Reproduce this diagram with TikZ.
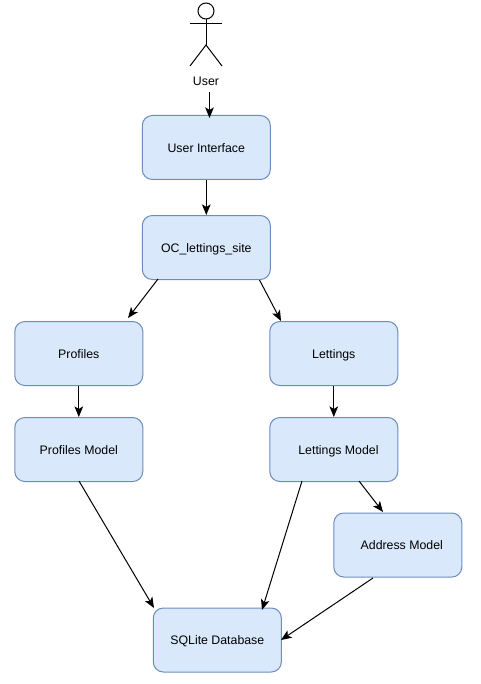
\documentclass[tikz,border=0pt]{standalone}
\usepackage{fontspec}
\setmainfont{Liberation Sans}
\usetikzlibrary{arrows.meta}
\definecolor{boxfill}{HTML}{DAE8FC}
\definecolor{boxline}{HTML}{6C8EBF}
\newcommand{\boxtext}[1]{\raisebox{-3.5pt}[0pt][0pt]{#1}}
\tikzset{
 x=0.75pt,y=-0.75pt,
 box/.style={draw=boxline,fill=boxfill,rounded corners=7.5pt,minimum width=96pt,minimum height=48pt,inner sep=0pt,line width=0.75pt,font=\fontsize{9.25}{11}\selectfont,text=black},
 conn/.style={draw=black,line width=0.75pt,-{Stealth[length=8pt,width=6.5pt,inset=2pt]}},
 actorline/.style={draw=black,line width=0.75pt},
}
\begin{document}
\begin{tikzpicture}
\useasboundingbox (0,0) rectangle (480,684);
\fill[white] (0,0) rectangle (480,684);
\node[box] (ui) at (206.3,147.5) {\boxtext{User Interface}};
\node[box] (oc) at (206.3,247.5) {\boxtext{OC\_lettings\_site}};
\node[box] (pr) at (78.8,353.5) {\boxtext{Profiles}};
\node[box] (le) at (333.8,353.5) {\boxtext{Lettings}};
\node[box] (pm) at (78.8,449.5) {\boxtext{Profiles Model}};
\node[box] (lm) at (333.8,449.5) {\boxtext{\hspace*{7pt}Lettings Model}};
\node[box] (am) at (397.8,545) {\boxtext{\hspace*{6pt}Address Model}};
\node[box] (db) at (217.3,640) {\boxtext{SQLite Database}};
\draw[actorline] (206,11) circle (8);
\draw[actorline] (206,19) -- (206,45);
\draw[actorline] (190,24) -- (222,24);
\draw[actorline] (190,66) -- (206,45) -- (222,66);
\node[font=\fontsize{9.25}{11}\selectfont,inner sep=0pt] (us) at (206,81.5) {User};
\coordinate (usb) at (209.5,92);
\coordinate (uit) at (209.5,118);
\draw[conn] (usb) -- (uit);
\draw[conn] (ui.south) -- (oc.north);
\coordinate (a1) at (158,279);
\coordinate (a2) at (128,318);
\draw[conn] (a1) -- (a2);
\coordinate (b1) at (259.5,280);
\coordinate (b2) at (281,321);
\draw[conn] (b1) -- (b2);
\draw[conn] (pr.south) -- (pm.north);
\draw[conn] (le.south) -- (lm.north);
\coordinate (c1) at (79,481);
\coordinate (c2) at (154,608);
\draw[conn] (c1) -- (c2);
\coordinate (d1) at (302,481);
\coordinate (d2) at (262,610);
\draw[conn] (d1) -- (d2);
\coordinate (e1) at (359,481);
\coordinate (e2) at (383,512);
\draw[conn] (e1) -- (e2);
\coordinate (f1) at (373,578);
\coordinate (f2) at (281,640);
\draw[conn] (f1) -- (f2);
\end{tikzpicture}
\end{document}
